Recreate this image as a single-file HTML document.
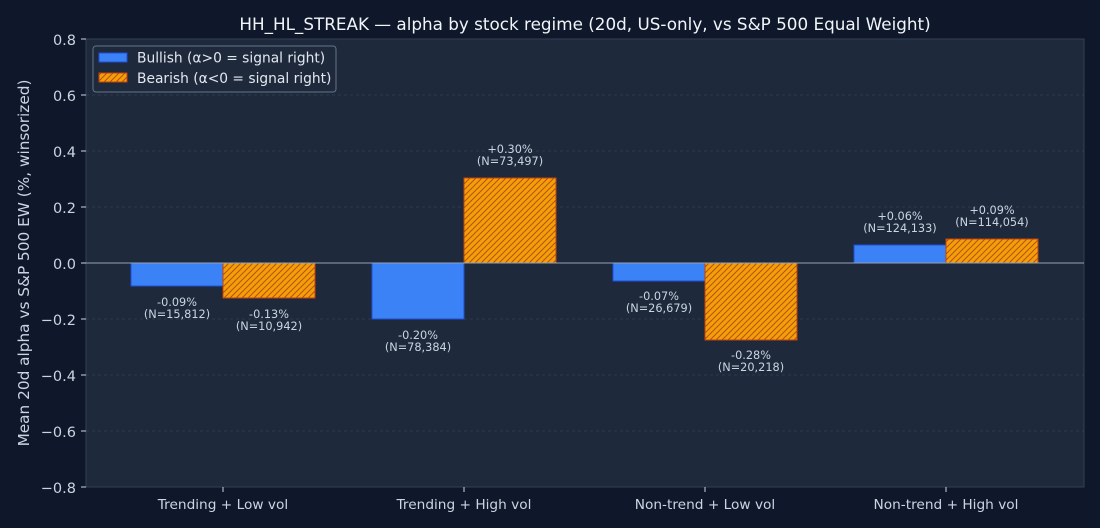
<!DOCTYPE html>
<html><head><meta charset="utf-8"><style>
html,body{margin:0;padding:0;background:#0f172a;}
svg{display:block;font-family:"DejaVu Sans","Liberation Sans",sans-serif;}
</style></head><body>
<svg width="1100" height="528" viewBox="0 0 1100 528" xmlns="http://www.w3.org/2000/svg">
<defs>
<pattern id="h" patternUnits="userSpaceOnUse" width="6" height="6">
<rect width="6" height="6" fill="#f59e0b"/>
<path d="M-1,1 l2,-2 M0,6 l6,-6 M5,7 l2,-2" stroke="#b45309" stroke-width="1"/>
</pattern>
</defs>
<rect width="1100" height="528" fill="#0f172a"/>
<rect x="86" y="39" width="998" height="448" fill="#1e293b" stroke="#334155"/>
<g stroke="#334155" stroke-dasharray="3,3" stroke-width="0.7">
<line x1="86" x2="1084" y1="95" y2="95"/><line x1="86" x2="1084" y1="151" y2="151"/>
<line x1="86" x2="1084" y1="207" y2="207"/><line x1="86" x2="1084" y1="319" y2="319"/>
<line x1="86" x2="1084" y1="375" y2="375"/><line x1="86" x2="1084" y1="431" y2="431"/>
</g>
<text x="585" y="30" fill="#f1f5f9" font-size="16.8" text-anchor="middle">HH_HL_STREAK — alpha by stock regime (20d, US-only, vs S&amp;P 500 Equal Weight)</text>
<g fill="#cbd5e1" font-size="14.5" text-anchor="end">
<text x="76" y="45">0.8</text><text x="76" y="101">0.6</text><text x="76" y="157">0.4</text>
<text x="76" y="213">0.2</text><text x="76" y="269">0.0</text><text x="76" y="325">−0.2</text>
<text x="76" y="381">−0.4</text><text x="76" y="437">−0.6</text><text x="76" y="493">−0.8</text>
</g>
<g stroke="#cbd5e1"><line x1="81" x2="86" y1="39" y2="39"/><line x1="81" x2="86" y1="95" y2="95"/><line x1="81" x2="86" y1="151" y2="151"/><line x1="81" x2="86" y1="207" y2="207"/><line x1="81" x2="86" y1="263" y2="263"/><line x1="81" x2="86" y1="319" y2="319"/><line x1="81" x2="86" y1="375" y2="375"/><line x1="81" x2="86" y1="431" y2="431"/><line x1="81" x2="86" y1="487" y2="487"/>
<line x1="223" x2="223" y1="487" y2="492"/><line x1="464" x2="464" y1="487" y2="492"/><line x1="705" x2="705" y1="487" y2="492"/><line x1="946" x2="946" y1="487" y2="492"/></g>
<text transform="translate(29,263) rotate(-90)" fill="#cbd5e1" font-size="15.3" text-anchor="middle">Mean 20d alpha vs S&amp;P 500 EW (%, winsorized)</text>
<g fill="#cbd5e1" font-size="13.7" text-anchor="middle">
<text x="223" y="509">Trending + Low vol</text><text x="464" y="509">Trending + High vol</text>
<text x="705" y="509">Non-trend + Low vol</text><text x="946" y="509">Non-trend + High vol</text>
</g>
<g fill="#3b82f6" stroke="#1d4ed8" stroke-width="1">
<rect x="131" y="263" width="92" height="23"/>
<rect x="372" y="263" width="92" height="56"/>
<rect x="613" y="263" width="92" height="18"/>
<rect x="854" y="245" width="92" height="18"/>
</g>
<g fill="url(#h)" stroke="#c2410c" stroke-width="1">
<rect x="223" y="263" width="92" height="35"/>
<rect x="464" y="178" width="92" height="85"/>
<rect x="705" y="263" width="92" height="77"/>
<rect x="946" y="239" width="92" height="24"/>
</g>
<line x1="86" x2="1084" y1="263" y2="263" stroke="#94a3b8" stroke-width="1"/>
<g fill="#cbd5e1" font-size="11.3" text-anchor="middle">
<text x="177" y="306">-0.09%</text><text x="177" y="318">(N=15,812)</text>
<text x="269" y="318">-0.13%</text><text x="269" y="330">(N=10,942)</text>
<text x="418" y="339">-0.20%</text><text x="418" y="351">(N=78,384)</text>
<text x="510" y="153">+0.30%</text><text x="510" y="165">(N=73,497)</text>
<text x="659" y="300">-0.07%</text><text x="659" y="312">(N=26,679)</text>
<text x="751" y="359">-0.28%</text><text x="751" y="371">(N=20,218)</text>
<text x="900" y="220">+0.06%</text><text x="900" y="232">(N=124,133)</text>
<text x="992" y="214">+0.09%</text><text x="992" y="226">(N=114,054)</text>
</g>
<rect x="93" y="46" width="243" height="46" rx="3" fill="#1e293b" stroke="#64748b" stroke-width="1"/>
<rect x="99" y="53" width="28" height="9" fill="#3b82f6" stroke="#1d4ed8"/>
<rect x="99" y="73" width="28" height="9" fill="url(#h)" stroke="#c2410c"/>
<g fill="#e2e8f0" font-size="13.8">
<text x="137" y="62.5">Bullish (α&gt;0 = signal right)</text>
<text x="137" y="83">Bearish (α&lt;0 = signal right)</text>
</g>
</svg>
</body></html>
